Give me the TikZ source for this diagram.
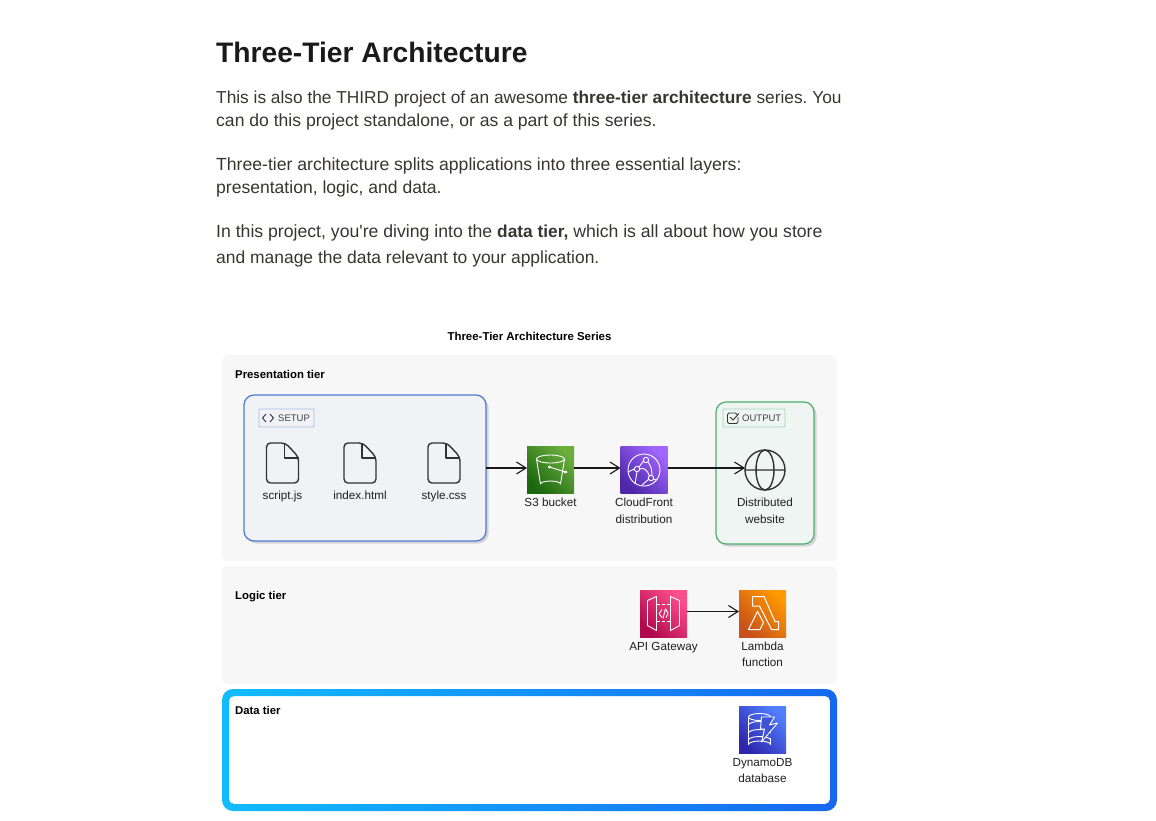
\documentclass[tikz,border=0pt]{standalone}
\usepackage{fontspec}
\setmainfont{Liberation Sans}[Ligatures=TeXOff]
\usetikzlibrary{arrows.meta,shadows}

\definecolor{headink}{HTML}{1A1A1A}
\definecolor{bodyink}{HTML}{37352F}
\definecolor{panelgray}{HTML}{F7F7F7}
\definecolor{setupblue}{HTML}{4A7BD0}
\definecolor{setupfill}{HTML}{F0F2F6}
\definecolor{outgreen}{HTML}{4FAE6E}
\definecolor{outfill}{HTML}{EFF5F2}
\definecolor{glyphink}{HTML}{333333}
\definecolor{ringleft}{HTML}{12BCFF}
\definecolor{ringright}{HTML}{1668EE}
\definecolor{stlow}{HTML}{1B660F}
\definecolor{sthigh}{HTML}{6CAE3E}
\definecolor{cflow}{HTML}{4D27A8}
\definecolor{cfhigh}{HTML}{A166FF}
\definecolor{apilow}{HTML}{B0084D}
\definecolor{apihigh}{HTML}{FF4F8B}
\definecolor{lamlow}{HTML}{C8511B}
\definecolor{lamhigh}{HTML}{FF9900}
\definecolor{dynlow}{HTML}{2E27AD}
\definecolor{dynhigh}{HTML}{527FFF}
\definecolor{dynmid}{HTML}{3F53D6}

\newcommand{\boldrun}[1]{{\fontsize{17.3}{20}\selectfont\bfseries #1}}

\tikzset{
  bodyline/.style={anchor=base west,inner sep=0,text=bodyink,font=\fontsize{#1}{20}\selectfont},
  bodyline/.default=17.55,
  tiername/.style={anchor=base west,inner sep=0,text=black,font=\fontsize{11.35}{13}\selectfont\bfseries},
  iconname/.style={anchor=base,inner sep=0,text=black!88,font=\fontsize{11.7}{13}\selectfont},
  tagname/.style={anchor=base west,inner sep=0,text=black!75,font=\fontsize{9.5}{12}\selectfont},
  panel/.style={fill=panelgray,rounded corners=6},
  icon/.style 2 args={minimum width=47,minimum height=47,inner sep=0,outer sep=0,
    bottom color=#1,top color=#2,shading angle=-45},
  softshadow/.style={drop shadow={shadow xshift=2.5,shadow yshift=2.5,opacity=.14,fill=black}},
  link/.style={draw=black!90,line width=1.1,-{Straight Barb[length=9.5,width=12]}},
  wl/.style={draw=white,line width=.9,line join=round},
  fileicon/.pic={
    \draw[glyphink,line width=1.4,line join=round,rounded corners=4]
      (-16,-20) -- (3,-20) -- (16,-6) -- (16,20) -- (-16,20) -- cycle;
    \draw[glyphink,line width=1.4,line join=round] (2,-20) -- (2,-5) -- (16,-5);
  },
  bucketicon/.pic={
    \draw[wl] (0,-11) ellipse (14 and 4);
    \draw[wl] (-14,-11) -- (-10,14) arc[start angle=180,end angle=360,x radius=10,y radius=3] -- (14,-11);
    \draw[wl] (-1,-3) -- (15,2);
    \draw[wl,fill=white] (-1,-3) circle (1);
    \draw[wl] (15,2) ellipse (1.5 and 1);
  },
  cloudicon/.pic={
    \draw[wl] (0,0) circle (16);
    \draw[wl] (2,-10) circle (2.7) (-7,-1) circle (2.7) (7,8) circle (2.7);
    \draw[wl] (-7,1.7) -- (-9,14) (-4.3,-1) .. controls (0,-3) and (3,0) .. (5.5,5.8);
    \draw[wl] (4,-8) .. controls (7,-4) and (8,0) .. (8,5.3) (-.5,-9) -- (-5,-3);
    \draw[wl] (5,9) -- (-2,15) (-16,2) -- (-9.7,-1) (9.5,9) -- (13,10);
  },
  apiicon/.pic={
    \draw[wl] (-16,-13) -- (-7,-17) -- (-7,17) -- (-16,12) -- cycle;
    \draw[wl] (16,-13) -- (7,-17) -- (7,17) -- (16,12) -- cycle;
    \draw[wl,densely dashed] (-7,-9) -- (7,-9) (-7,8) -- (7,8);
    \draw[wl] (-1.5,-4) -- (-4.5,0) -- (-1.5,4) (2,-5) -- (-.5,5) (2.5,-4) -- (4.5,0) -- (2.5,4);
  },
  lambdaicon/.pic={
    \draw[wl,line width=1] (-10,-17) -- (1.5,-17) -- (12.5,8) -- (16,8) -- (16,16) -- (9,16) -- (-3,-7.5) -- (-10,-7.5) -- cycle;
    \draw[wl,line width=1] (-14,16) -- (-5,-2) -- (1,9) -- (-2.5,16) -- cycle;
  },
  dynamoicon/.pic={
    \draw[wl] (-3,-13) ellipse (11 and 3.5);
    \draw[wl] (-14,-13) -- (-14,14.5) arc[start angle=180,end angle=360,x radius=11,y radius=3.5] -- (8,8);
    \draw[wl] (-14,-5) arc[start angle=180,end angle=360,x radius=11,y radius=3.5];
    \draw[wl] (-14,3) arc[start angle=180,end angle=360,x radius=11,y radius=3.5];
    \draw[wl] (-14,10) arc[start angle=180,end angle=360,x radius=11,y radius=3.5];
    \draw[wl,fill=dynmid] (-1,-13) -- (12,-13) -- (7,-5) -- (15,-7) -- (-1,12) -- (2,-1) -- (-2,-1) -- cycle;
  },
  globeicon/.pic={
    \draw[glyphink,line width=1.4] (0,0) circle (20);
    \draw[glyphink,line width=1.4] (0,0) ellipse (9 and 20) (-20,0) -- (20,0);
  },
}

\begin{document}
\begin{tikzpicture}[x=1pt,y=-1pt]
  \useasboundingbox (0,0) rectangle (1156,820);
  \frenchspacing

  % page text
  \node[anchor=base west,inner sep=0,text=headink,font=\fontsize{28.2}{32}\selectfont\bfseries] (title) at (216,62) {Three-Tier Architecture};
  \node[bodyline=17.3] (para1a) at (216,103) {This is also the THIRD project of an awesome \boldrun{three-tier architecture} series. You};
  \node[bodyline=17.57] (para1b) at (216,126) {can do this project standalone, or as a part of this series.};
  \node[bodyline=17.6] (para2a) at (216,170) {Three-tier architecture splits applications into three essential layers:};
  \node[bodyline] (para2b) at (216,193) {presentation, logic, and data.};
  \node[bodyline=17.65] (para3a) at (216,237) {In this project, you're diving into the \boldrun{data tier,} which is all about how you store};
  \node[bodyline=17.45] (para3b) at (216,263) {and manage the data relevant to your application.};
  \node[anchor=base,inner sep=0,text=black,font=\fontsize{11.45}{13}\selectfont\bfseries] (series) at (529.5,340) {Three-Tier Architecture Series};

  % tiers
  \path[panel] (222,355) rectangle (837,561);
  \path[panel] (222,566) rectangle (837,684);
  \shade[left color=ringleft,right color=ringright,even odd rule]
    [rounded corners=11] (222,689) rectangle (837,811)
    [rounded corners=5] (229,696) rectangle (830,804);
  \node[tiername] (presname) at (235,378) {Presentation tier};
  \node[tiername] (logicname) at (235,599) {Logic tier};
  \node[tiername] (dataname) at (235,714) {Data tier};

  % setup and output boxes
  \node[draw=setupblue,fill=setupfill,line width=1.2,rounded corners=10,minimum width=242,minimum height=146,inner sep=0,outer sep=0,softshadow] (setup) at (365,468) {};
  \node[draw=outgreen,fill=outfill,line width=1.2,rounded corners=10,minimum width=98,minimum height=142,inner sep=0,outer sep=0,softshadow] (output) at (765,473) {};
  \node[draw=setupblue!50,line width=.8,rounded corners=1,minimum width=55,minimum height=18,inner sep=0] (setuptag) at (286.5,418) {};
  \node[tagname] (setupname) at (278,421.5) {SETUP};
  \draw[glyphink,line width=.9] (266,414) -- (262.5,418) -- (266,422) (270,414) -- (273.5,418) -- (270,422);
  \node[draw=outgreen!50,line width=.8,rounded corners=1,minimum width=62,minimum height=18,inner sep=0] (outputtag) at (754,418) {};
  \node[tagname] (outputname) at (742,421.5) {OUTPUT};
  \draw[glyphink,line width=.9,rounded corners=1.5] (737,414.5) -- (737,413) -- (727.5,413) -- (727.5,423.5) -- (738,423.5) -- (738,417);
  \draw[glyphink,line width=.9] (730,417) -- (733,420) -- (739,413.5);

  % files
  \pic at (282.5,463) {fileicon};
  \pic at (360,463) {fileicon};
  \pic at (444,463) {fileicon};
  \node[iconname] (scriptname) at (282.5,499.5) {script.js};
  \node[iconname] (indexname) at (360,499.5) {index.html};
  \node[iconname] (stylename) at (444,499.5) {style.css};

  % services
  \node[icon={stlow}{sthigh}] (s3) at (550.5,470) {};
  \pic at (s3) {bucketicon};
  \node[icon={cflow}{cfhigh}] (cf) at (644,470) {};
  \pic at (cf) {cloudicon};
  \node[circle,minimum size=40,inner sep=0,outer sep=0] (globe) at (765,470) {};
  \pic at (globe) {globeicon};
  \node[icon={apilow}{apihigh}] (api) at (663.5,613.5) {};
  \pic at (api) {apiicon};
  \node[icon={lamlow}{lamhigh}] (lambda) at (762.5,613.5) {};
  \pic at (lambda) {lambdaicon};
  \node[icon={dynlow}{dynhigh}] (dynamo) at (762.5,730) {};
  \pic at (dynamo) {dynamoicon};

  \node[iconname] (s3name) at (550.5,506.5) {S3 bucket};
  \node[iconname] (cfname) at (644,506.5) {CloudFront};
  \node[iconname] (cfname2) at (644,523) {distribution};
  \node[iconname] (sitename) at (765,506.5) {Distributed};
  \node[iconname] (sitename2) at (765,523) {website};
  \node[iconname] (apiname) at (663.5,650) {API Gateway};
  \node[iconname] (lambdaname) at (762.5,650) {Lambda};
  \node[iconname] (lambdaname2) at (762.5,666) {function};
  \node[iconname] (dynamoname) at (762.5,766) {DynamoDB};
  \node[iconname] (dynamoname2) at (762.5,782) {database};

  % links
  \draw[link] (setup.east) -- (setup.east -| s3.west);
  \draw[link] ([yshift=2]s3.east) -- ([yshift=2]cf.west);
  \draw[link] ([yshift=2]cf.east) -- ([yshift=2]globe.west);
  \draw[link] ([yshift=2]api.east) -- ([yshift=2]lambda.west);
\end{tikzpicture}
\end{document}
